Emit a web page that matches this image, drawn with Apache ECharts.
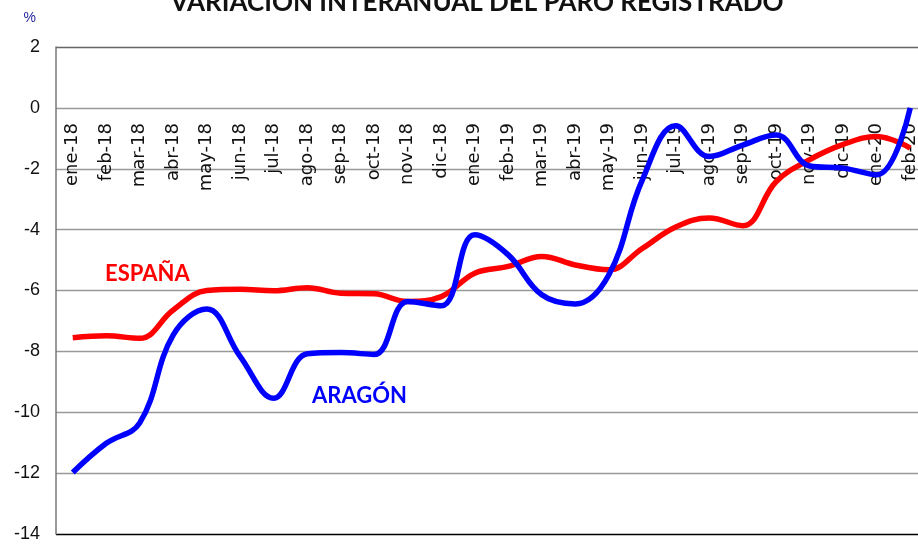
<!DOCTYPE html>
<html lang="es">
<head>
  <meta charset="utf-8">
  <title>Variación interanual del paro registrado</title>
  <style>
    * { margin: 0; padding: 0; }
    #chart-container { width: 918px; height: 548px; background: #fff; }
  </style>
</head>
<body>
  <div id="chart-container"></div>
  <script src="https://fastly.jsdelivr.net/npm/echarts@6/dist/echarts.min.js"></script>
  <script>
    // meses (eje de categorías)
    const months = [
      'ene-18', 'feb-18', 'mar-18', 'abr-18', 'may-18', 'jun-18', 'jul-18',
      'ago-18', 'sep-18', 'oct-18', 'nov-18', 'dic-18', 'ene-19', 'feb-19',
      'mar-19', 'abr-19', 'may-19', 'jun-19', 'jul-19', 'ago-19', 'sep-19',
      'oct-19', 'nov-19', 'dic-19', 'ene-20', 'feb-20'
    ];

    // variación interanual (%)
    const espana = [
      -7.55, -7.49, -7.57, -6.64, -6.0, -5.96, -6.01, -5.91, -6.09, -6.11,
      -6.36, -6.2, -5.43, -5.21, -4.88, -5.16, -5.32, -4.62, -3.91, -3.62,
      -3.87, -2.42, -1.7, -1.2, -0.94, -1.32
    ];
    const aragon = [
      -11.98, -11.02, -10.35, -7.46, -6.61, -8.17, -9.54, -8.08, -8.04, -8.1,
      -6.36, -6.5, -4.17, -4.83, -6.14, -6.44, -5.49, -2.37, -0.59, -1.6,
      -1.22, -0.89, -1.91, -1.98, -2.2, 0.0
    ];

    const yTicks = { min: -14, max: 2, interval: 2 };

    // línea inferior negra, resto gris
    const gridColors = ['#000', '#999', '#999', '#999', '#999', '#999', '#999', '#999', '#666'];

    var dom = document.getElementById('chart-container');
    var myChart = echarts.init(dom, null, { renderer: 'canvas' });

    var option = {
      backgroundColor: '#fff',
      animation: false,
      title: {
        text: 'VARIACIÓN INTERANUAL DEL PARO REGISTRADO',
        left: 472,
        textAlign: 'center',
        top: -15,
        textStyle: { fontFamily: 'Lato', fontWeight: 'bold', fontSize: 26, color: '#111' }
      },
      grid: { left: 56, top: 47, width: 871, height: 487, outerBoundsMode: 'none', containLabel: false },
      xAxis: {
        type: 'category',
        data: months,
        position: 'top',
        axisLine: { show: false, onZero: false },
        axisTick: { show: false },
        splitLine: { show: false },
        axisLabel: {
          inside: true,
          rotate: -90,
          interval: 0,
          margin: 76,
          fontFamily: 'DejaVu Sans',
          fontSize: 18,
          color: '#111'
        }
      },
      yAxis: {
        type: 'value',
        min: yTicks.min,
        max: yTicks.max,
        interval: yTicks.interval,
        name: '%',
        nameLocation: 'end',
        nameGap: 22,
        nameTextStyle: { color: '#1f1f9a', fontFamily: 'Liberation Sans', fontSize: 14, align: 'right', padding: [0, 20, 0, 0] },
        axisLine: { show: true, lineStyle: { color: '#777', width: 1.5 } },
        axisTick: { show: false },
        axisLabel: { margin: 16, fontFamily: 'Liberation Sans', fontSize: 18, color: '#111' },
        splitLine: { show: true, lineStyle: { color: gridColors, width: 1.3 } }
      },
      series: [
        {
          name: 'ESPAÑA',
          type: 'line',
          data: espana,
          smooth: 0.4,
          symbol: 'none',
          lineStyle: { color: '#ff0000', width: 5.5 }
        },
        {
          name: 'ARAGÓN',
          type: 'line',
          data: aragon,
          smooth: 0.4,
          symbol: 'none',
          lineStyle: { color: '#0000ff', width: 5.5 }
        }
      ],
      graphic: [
        {
          type: 'text',
          left: 105,
          top: 263,
          style: { text: 'ESPAÑA', fill: '#ff0000', font: 'bold 22px Lato' }
        },
        {
          type: 'text',
          left: 312,
          top: 385,
          style: { text: 'ARAGÓN', fill: '#0000ff', font: 'bold 22px Lato' }
        }
      ]
    };

    myChart.setOption(option);
    window.addEventListener('resize', myChart.resize);
  </script>
</body>
</html>
